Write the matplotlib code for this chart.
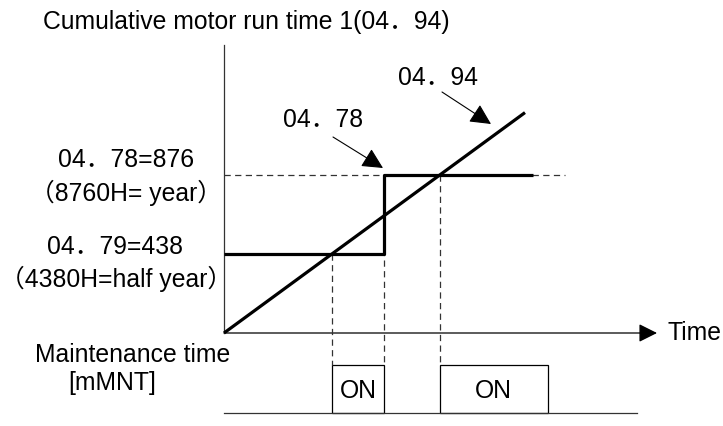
import matplotlib.pyplot as plt
from matplotlib.patches import FancyArrowPatch, Rectangle

# parameter levels (04.79 half-year, 04.78 one year), in 10 h units
half_year = 438
one_year = 876

# cumulative run time ramp (04.94): value equals elapsed time
ramp_t = [0, 1222]
ramp_v = [0, 1222]

# maintenance level switches from 04.79 to 04.78 at t_switch
t_switch = 651
step_t = [0, t_switch, t_switch, 1253]
step_v = [half_year, half_year, one_year, one_year]

# maintenance output ON windows (start, end)
on_windows = [(half_year, t_switch), (one_year, 1315)]

# drawing scale: units per pixel, origin of the time axis
sx, sy = 4.06, 5.544

fig = plt.figure(figsize=(7.23, 4.26), dpi=100)
ax = fig.add_axes([0, 0, 1, 1])
ax.set_xlim(-224 * sx, (723 - 224) * sx)
ax.set_ylim(-(426 - 333) * sy, 333 * sy)
ax.axis('off')

font = ['Liberation Sans', 'Noto Sans CJK JP', 'DejaVu Sans']
fs = 17.8
thin = 0.9
thick = 2.3
dash = (0, (5, 3.5))

# axes of the time chart
ax.plot([0, 0], [0, 288 * sy], color='#333333', lw=thin)
ax.add_patch(FancyArrowPatch((0, 0), (433 * sx, 0), arrowstyle='-|>',
                             mutation_scale=28, color='black', lw=thin,
                             shrinkA=0, shrinkB=0))

# threshold and crossing guides
ax.plot([0, 341 * sx], [one_year, one_year], color='#333333', lw=thin, ls=dash)
box_top = -32 * sy
box_bot = -80 * sy
for t, v in [(half_year, half_year), (t_switch, one_year), (one_year, one_year)]:
    ax.plot([t, t], [v, box_top], color='#333333', lw=thin, ls=dash)

# ramp and step
ax.plot(ramp_t, ramp_v, color='black', lw=thick, solid_capstyle='butt')
ax.plot(step_t, step_v, color='black', lw=thick, solid_capstyle='butt')

# maintenance output
ax.plot([0, 413 * sx], [box_bot, box_bot], color='#333333', lw=thin)
for t0, t1 in on_windows:
    ax.add_patch(Rectangle((t0, box_bot), t1 - t0, box_top - box_bot,
                           fill=False, ec='black', lw=thin))
    ax.text((t0 + t1) / 2, (box_top + box_bot) / 2 - 2 * sy, 'ON',
            ha='center', va='center', fontsize=fs, family=font)

# pointer arrows
for (x0, y0), (x1, y1) in [((333, 137), (383, 168)), ((442, 92), (491, 124))]:
    ax.add_patch(FancyArrowPatch(((x0 - 224) * sx, (333 - y0) * sy),
                                 ((x1 - 224) * sx, (333 - y1) * sy),
                                 arrowstyle='-|>', mutation_scale=32,
                                 color='black', lw=0.8, shrinkA=0, shrinkB=0))

def label(px, py, s, ha='center'):
    ax.text((px - 224) * sx, (333 - py) * sy, s, ha=ha, va='center',
            fontsize=fs, family=font)

label(43, 22, 'Cumulative motor run time 1(04．94)', ha='left')
label(438, 78, '04．94')
label(323, 120, '04．78')
label(126, 160, '04．78=876')
label(126, 193, '（8760H= year）')
label(115, 247, '04．79=438')
label(116, 279, '（4380H=half year）')
label(668, 333, 'Time', ha='left')
label(133, 355, 'Maintenance time')
label(112, 383, '[mMNT]')

fig.savefig('out.png', dpi=100)
